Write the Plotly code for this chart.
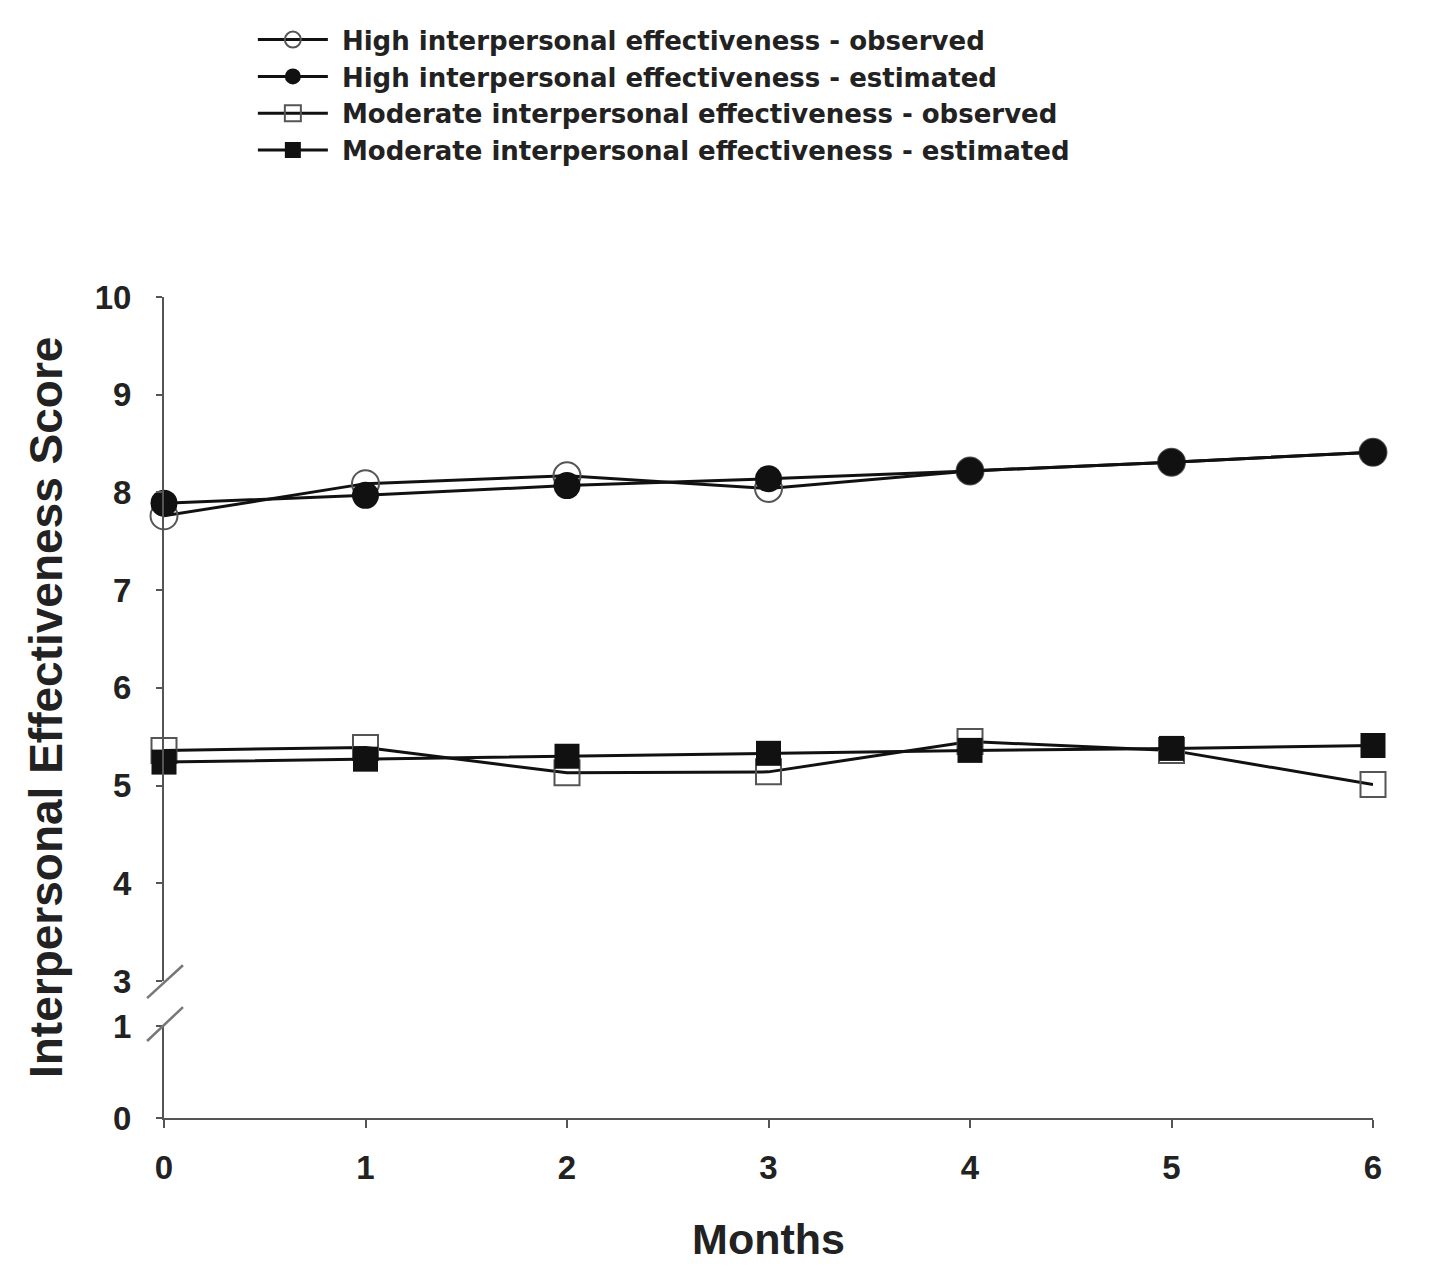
import plotly.graph_objects as go

months = [0, 1, 2, 3, 4, 5, 6]
high_observed = [7.76, 8.09, 8.17, 8.04, 8.22, 8.31, 8.41]
high_estimated = [7.89, 7.97, 8.07, 8.14, 8.22, 8.31, 8.41]
mod_observed = [5.36, 5.39, 5.13, 5.14, 5.45, 5.36, 5.01]
mod_estimated = [5.24, 5.27, 5.30, 5.33, 5.36, 5.38, 5.41]

names = [
    "High interpersonal effectiveness - observed",
    "High interpersonal effectiveness - estimated",
    "Moderate interpersonal effectiveness - observed",
    "Moderate interpersonal effectiveness - estimated",
]
upper_ticks = [3, 4, 5, 6, 7, 8, 9, 10]
lower_ticks = [0, 1]

FONT = "Liberation Sans, Arial, sans-serif"
LEGFONT = "DejaVu Sans, Liberation Sans, sans-serif"
TXT = "#222222"
AX = "#555555"

fig = go.Figure()

series = [
    (names[0], high_observed, "circle-open", 27, AX, 2),
    (names[1], high_estimated, "circle", 27, "#111111", 0),
    (names[2], mod_observed, "square-open", 25, AX, 2),
    (names[3], mod_estimated, "square", 25, "#111111", 0),
]
for name, vals, sym, size, col, lw in series:
    fig.add_trace(go.Scatter(
        x=months, y=vals, name="\u00a0" + name, mode="lines+markers",
        line=dict(color="#111111", width=3),
        marker=dict(symbol=sym, size=size, color=col,
                    line=dict(width=lw, color=col)),
        cliponaxis=False, xaxis="x", yaxis="y",
    ))

# invisible trace to instantiate the lower y axis
fig.add_trace(go.Scatter(x=[0], y=[0], mode="markers", marker=dict(opacity=0),
                         showlegend=False, hoverinfo="skip", xaxis="x", yaxis="y2"))

tickfont = dict(family=FONT, size=33, color=TXT, weight="bold")
axis_common = dict(showgrid=False, zeroline=False, showline=True, linecolor=AX,
                   linewidth=2, ticks="outside", tickcolor=AX, tickwidth=2,
                   tickfont=tickfont, automargin=False)

fig.update_layout(
    width=1433, height=1280,
    margin=dict(l=156, r=68, t=289, b=170, autoexpand=False),
    paper_bgcolor="white", plot_bgcolor="white",
    font=dict(family=FONT, color=TXT),
    showlegend=True,
    legend=dict(x=0.0735, y=1.342, xanchor="left", yanchor="top",
                font=dict(family=LEGFONT, size=26, color=TXT, weight="bold"),
                itemwidth=70, tracegroupgap=0, bgcolor="rgba(0,0,0,0)"),
    xaxis=dict(range=[0, 6], tickvals=months, anchor="y2",
               ticklen=8, ticklabelstandoff=11,
               title=dict(text="Months", font=dict(family=FONT, size=43, color=TXT, weight="bold"),
                          standoff=39),
               **axis_common),
    yaxis=dict(range=[3, 10], tickvals=upper_ticks, domain=[0.1669, 1.0], anchor="x",
               ticklen=6, ticklabelstandoff=18, **axis_common),
    yaxis2=dict(range=[0, 1], tickvals=lower_ticks, domain=[0.0, 0.1121], anchor="x",
                ticklen=6, ticklabelstandoff=18, **axis_common),
    annotations=[dict(text="Interpersonal Effectiveness Score", textangle=-90,
                      xref="paper", yref="paper", x=-0.098, y=0.5,
                      xanchor="center", yanchor="middle", showarrow=False,
                      font=dict(family=FONT, size=46, color=TXT, weight="bold"))],
    shapes=[
        dict(type="line", xref="paper", yref="paper", x0=-0.014, y0=0.146, x1=0.0157, y1=0.186,
             line=dict(color="#777777", width=2.5)),
        dict(type="line", xref="paper", yref="paper", x0=-0.014, y0=0.0938, x1=0.0157, y1=0.135,
             line=dict(color="#777777", width=2.5)),
    ],
)

fig.write_html("out.html")
